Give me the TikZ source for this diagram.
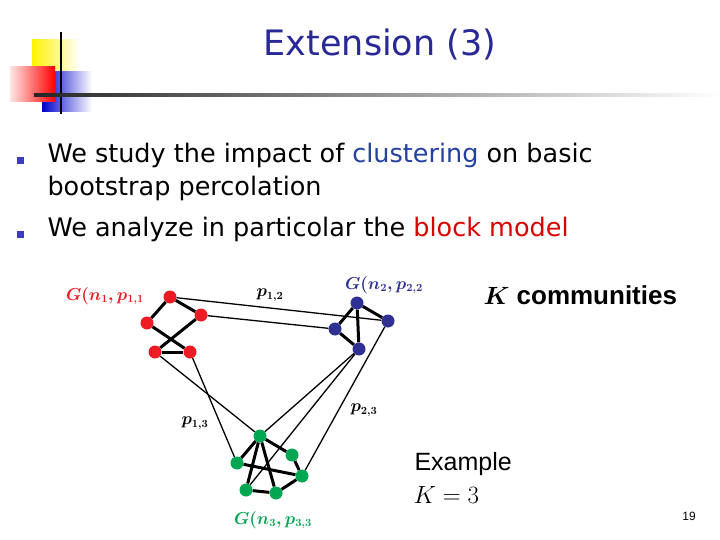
\documentclass[tikz,border=0pt]{standalone}
\usepackage{amsmath}
\usepackage{fontspec}
\setmainfont{DejaVu Sans}
\newfontfamily\headfont{Liberation Sans}
\usetikzlibrary{positioning}
\definecolor{redv}{RGB}{237,28,36}
\definecolor{bluev}{RGB}{46,49,146}
\definecolor{greenv}{RGB}{0,166,81}
\definecolor{titleblue}{RGB}{40,40,150}
\definecolor{hl}{RGB}{36,64,160}
\definecolor{bulletc}{RGB}{60,60,190}
\tikzset{
  vtx/.style={circle, inner sep=0pt, minimum size=13pt},
  rv/.style={vtx, fill=redv},
  bv/.style={vtx, fill=bluev},
  gv/.style={vtx, fill=greenv},
  intra/.style={line width=3pt},
  inter/.style={line width=1.3pt},
  glabel/.style={font=\fontsize{16}{18}\selectfont},
  body/.style={anchor=west, font=\fontsize{25.5}{28}\selectfont}
}
\begin{document}
\begin{tikzpicture}[x=1pt,y=-1pt]
    \useasboundingbox (0,0) rectangle (720,540);
    \fill[white] (0,0) rectangle (720,540);

    % logo
    \shade[left color=yellow!90!orange, right color=white] (32,40) rectangle (80,72);
    \shade[left color=blue!80!black, right color=white] (42,72) rectangle (92,112);
    \shade[left color=red!10, right color=red] (10,67) rectangle (55,102);
    \draw[line width=2pt] (61,32) -- (61,114);
    \shade[left color=black!85, right color=white] (34,94) rectangle (720,97);

    \node (title) at (380,45) {\fontsize{35}{38}\selectfont\color{titleblue} Extension (3)};

    % bullets
    \fill[bulletc] (17,157) rectangle (24,164);
    \fill[bulletc] (17,231) rectangle (24,238);
    \node[body] (txt1) at (44,155) {We study the impact of \textcolor{hl}{clustering} on basic};
    \node[body] (txt1b) at (44,188) {bootstrap percolation};
    \node[body] (txt2) at (44,229) {We analyze in particolar the \textcolor{red!85!black}{block model}};

    % red community
    \node[rv] (r1) at (170,297) {};
    \node[rv] (r2) at (201,315) {};
    \node[rv] (r3) at (147,323) {};
    \node[rv] (r4) at (155,352) {};
    \node[rv] (r5) at (190,352) {};
    % blue community
    \node[bv] (b1) at (357,303) {};
    \node[bv] (b2) at (388,321) {};
    \node[bv] (b3) at (335,329) {};
    \node[bv] (b4) at (359,349) {};
    % green community
    \node[gv] (g1) at (260,436) {};
    \node[gv] (g2) at (292,455) {};
    \node[gv] (g3) at (237,463) {};
    \node[gv] (g4) at (302,476) {};
    \node[gv] (g5) at (246,490) {};
    \node[gv] (g6) at (276,493) {};

    \begin{scope}[on background layer/.try]
    \foreach \a/\b in {r1/r3, r1/r2, r2/r4, r3/r5, r4/r5,
                       b1/b2, b1/b3, b1/b4, b3/b4,
                       g1/g3, g1/g2, g1/g5, g1/g6, g2/g4, g3/g4, g5/g6, g6/g4}
      \draw[intra] (\a) -- (\b);
    \foreach \a/\b in {r1/b2, r2/b3, r4/g1, r5/g3, b4/g1, b4/g5, b2/g4}
      \draw[inter] (\a) -- (\b);
    \end{scope}

    % labels
    \node[glabel, text=redv] (l11) at (105,296) {$\boldsymbol{G(n_1,p_{1,1}}$};
    \node[glabel, text=bluev] (l22) at (384,285) {$\boldsymbol{G(n_2,p_{2,2}}$};
    \node[glabel, text=greenv] (l33) at (273,520) {$\boldsymbol{G(n_3,p_{3,3}}$};
    \node[glabel] (l12) at (270,295) {$\boldsymbol{p_{1,2}}$};
    \node[glabel] (l13) at (195,423) {$\boldsymbol{p_{1,3}}$};
    \node[glabel] (l23) at (364,410) {$\boldsymbol{p_{2,3}}$};

    \node[anchor=west, font=\headfont\bfseries\fontsize{26}{28}\selectfont] (kc) at (480,295) {$\boldsymbol{K}$ communities};
    \node[anchor=west, font=\headfont\fontsize{25}{26}\selectfont] (ex) at (411,464) {Example};
    \node[anchor=west, font=\fontsize{25}{26}\selectfont] (k3) at (410,495) {$K=3$};
    \node[font=\headfont\fontsize{12}{14}\selectfont] (pg) at (689,516) {19};
\end{tikzpicture}
\end{document}
